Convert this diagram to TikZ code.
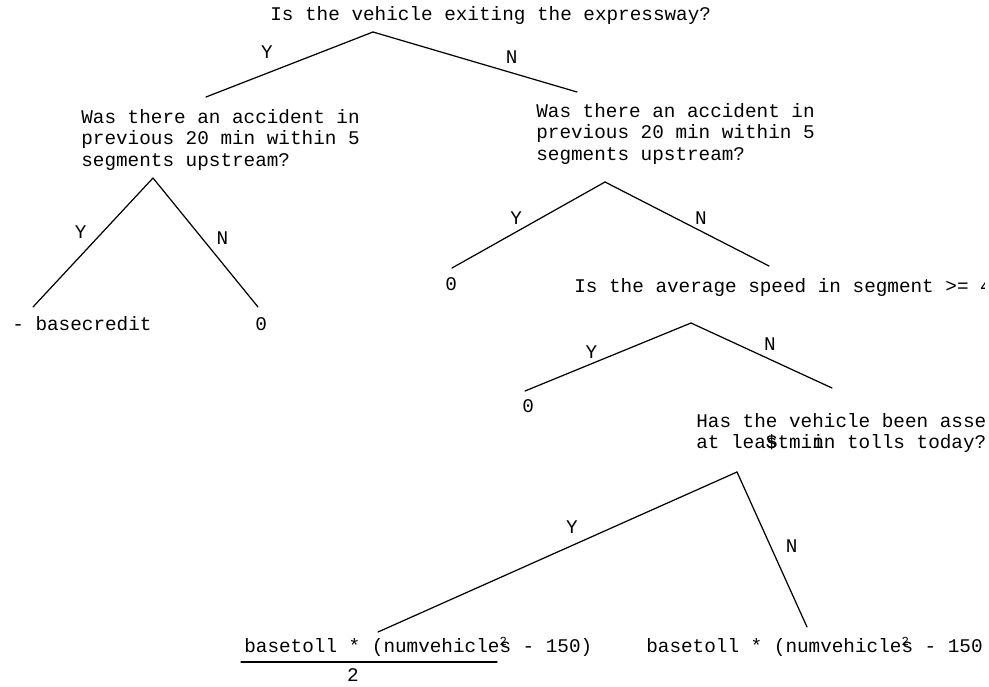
\documentclass[tikz,border=0pt]{standalone}
\usepackage{fontspec}
\setmainfont{Liberation Mono}
\newcommand\sqmark{\rlap{\raisebox{4pt}{\fontsize{7}{7}\selectfont 2}}}

\begin{document}
\begin{tikzpicture}[
    x=0.02cm, y=-0.02cm,
    every node/.style={font=\fontsize{11}{12}\selectfont, inner sep=0pt},
    quest/.style={anchor=west, align=left},
    leaf/.style={anchor=west},
    branch/.style={line width=0.7pt, line cap=round}
]
\useasboundingbox (0,0) rectangle (989,686);
\clip (0,0) rectangle (984,686);

% --- Preguntas
\node[quest] (q1) at (270,16) {Is the vehicle exiting the expressway?};
\node[quest] (q2) at (81,140) {Was there an accident in\\previous 20 min within 5\\segments upstream?};
\node[quest] (q3) at (536,134) {Was there an accident in\\previous 20 min within 5\\segments upstream?};
\node[quest] (q4) at (574,287) {Is the average speed in segment >= 4};
\node[quest] (q5) at (696,433) {Has the vehicle been asse\\at lea\rlap{\$}stmi\rlap{n}in tolls today?};

% --- Hojas
\node[leaf] (l1) at (12,324) {- basecredit};
\node[leaf] (l2) at (255,324) {0};
\node[leaf] (l3) at (445,284) {0};
\node[leaf] (l4) at (522,406) {0};
\node[leaf] (l5) at (244,647) {basetoll * (numvehicle\sqmark s - 150)};
\node[leaf] (l6) at (646,647) {basetoll * (numvehicle\sqmark s - 150};
\node (den) at (353,675) {2};

% --- Vertices y extremos de las ramas
\coordinate (q1a) at (373,32);
\coordinate (q1y) at (206,97);
\coordinate (q1n) at (577,92);
\coordinate (q2a) at (153,178);
\coordinate (q2y) at (33,307);
\coordinate (q2n) at (258,307);
\coordinate (q3a) at (605,182);
\coordinate (q3y) at (452,268);
\coordinate (q3n) at (769,266);
\coordinate (q4a) at (691,323);
\coordinate (q4y) at (525,391);
\coordinate (q4n) at (832,388);
\coordinate (q5a) at (737,472);
\coordinate (q5y) at (378,632);
\coordinate (q5n) at (807,627);
\coordinate (bar1) at (241,662);
\coordinate (bar2) at (497,662);

% --- Ramas
\draw[branch] (q1a) -- node[pos=.635, shift={(0,-21)}] {Y} (q1y);
\draw[branch] (q1a) -- node[pos=.68, shift={(0,-16)}] {N} (q1n);
\draw[branch] (q2a) -- node[pos=.42, shift={(-22,0)}] {Y} (q2y);
\draw[branch] (q2a) -- node[pos=.47, shift={(20,0)}] {N} (q2n);
\draw[branch] (q3a) -- node[pos=.58, shift={(0,-14)}] {Y} (q3y);
\draw[branch] (q3a) -- node[pos=.585, shift={(0,-13)}] {N} (q3n);
\draw[branch] (q4a) -- node[pos=.6, shift={(0,-12)}] {Y} (q4y);
\draw[branch] (q4a) -- node[pos=.56, shift={(0,-15)}] {N} (q4n);
\draw[branch] (q5a) -- node[pos=.46, shift={(0,-18)}] {Y} (q5y);
\draw[branch] (q5a) -- node[pos=.48, shift={(21,0)}] {N} (q5n);

% fraccion
\draw[branch] (bar1) -- (bar2);

\end{tikzpicture}
\end{document}
